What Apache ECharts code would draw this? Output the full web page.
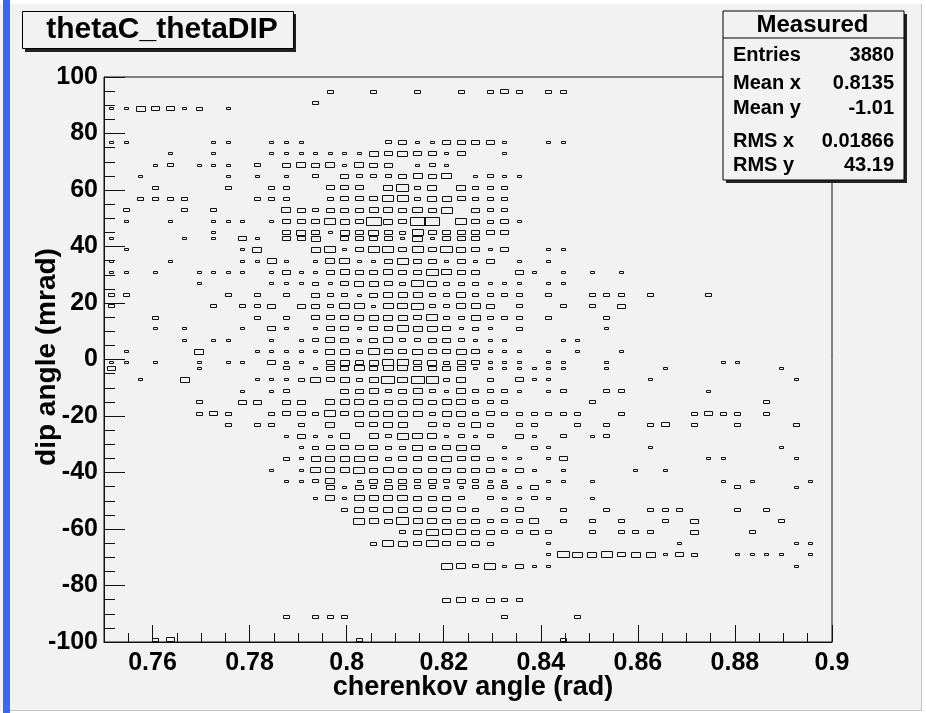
<!DOCTYPE html>
<html>
<head>
<meta charset="utf-8">
<script src="https://cdn.jsdelivr.net/npm/echarts@6/dist/echarts.min.js"></script>
<style>
html,body{margin:0;padding:0;background:#ffffff;}
#chart{width:926px;height:713px;}
</style>
</head>
<body>
<div id="chart"></div>
<script>
// ---- data ----
const title = 'thetaC_thetaDIP';
const xTitle = 'cherenkov angle (rad)';
const yTitle = 'dip angle (mrad)';
const xMin = 0.75, xMax = 0.9;
const yMin = -100, yMax = 100;
const xMajorTicks = [0.76, 0.78, 0.8, 0.82, 0.84, 0.86, 0.88, 0.9];
const xMinorTicks = [0.755, 0.765, 0.77, 0.775, 0.785, 0.79, 0.795, 0.805, 0.81, 0.815, 0.825, 0.83, 0.835, 0.845, 0.85, 0.855, 0.865, 0.87, 0.875, 0.885, 0.89, 0.895];
const xBinWidth = 0.003;
const xBinCenters = [0.7515, 0.7545, 0.7575, 0.7605, 0.7635, 0.7665, 0.7695, 0.7725, 0.7755, 0.7785,
  0.7815, 0.7845, 0.7875, 0.7905, 0.7935, 0.7965, 0.7995, 0.8025, 0.8055, 0.8085,
  0.8115, 0.8145, 0.8175, 0.8205, 0.8235, 0.8265, 0.8295, 0.8325, 0.8355, 0.8385,
  0.8415, 0.8445, 0.8475, 0.8505, 0.8535, 0.8565, 0.8595, 0.8625, 0.8655, 0.8685,
  0.8715, 0.8745, 0.8775, 0.8805, 0.8835, 0.8865, 0.8895, 0.8925, 0.8955, 0.8985];
// dip-angle rows (bin centres, mrad)
const dipRows = [95, 91, 89, 77, 73, 69, 65, 61, 57, 53, 49, 45, 43, 39, 35, 31, 27, 23, 19, 15, 11, 7, 3,
  -1, -3, -7, -11, -15, -19, -23, -27, -31, -35, -39, -43, -45, -49, -53, -57, -61, -65, -69, -73, -85, -91, -99];
// per row: [x bin index, entries]
const rowCells = [
  [[15,2],[18,2],[21,2],[24,2],[26,2],[27,3],[28,2],[30,2],[31,2]],
  [[14,2]],
  [[0,1],[1,1],[2,4],[3,3],[4,3],[5,1],[6,2],[8,1]],
  [[0,1],[1,1],[7,1],[8,1],[11,1],[12,1],[13,1],[19,2],[20,3],[21,1],[22,1],[23,3],[24,3],[25,3],[26,3],[27,1],[30,1],[31,1]],
  [[4,1],[7,1],[11,1],[12,1],[13,1],[14,1],[15,1],[16,1],[17,1],[18,4],[19,3],[20,5],[21,3],[22,3],[23,1],[24,3],[27,1]],
  [[3,1],[4,2],[6,1],[7,1],[8,1],[10,2],[12,3],[13,4],[14,3],[15,4],[16,1],[17,4],[18,3],[19,3],[21,1],[22,2],[23,1]],
  [[2,1],[8,1],[10,1],[12,1],[14,2],[16,3],[17,2],[18,2],[19,2],[20,3],[21,4],[22,3],[23,5],[25,1],[26,2],[27,1],[28,1]],
  [[3,2],[8,2],[11,2],[12,2],[15,3],[16,3],[17,3],[19,4],[20,8],[21,2],[22,4],[24,4],[25,2],[26,2],[27,2]],
  [[2,2],[3,2],[4,2],[5,2],[10,2],[11,2],[12,2],[15,2],[16,3],[17,3],[18,3],[19,6],[20,6],[21,2],[22,4],[23,4],[24,3],[25,2],[26,2],[27,2]],
  [[1,2],[5,2],[7,2],[12,4],[13,3],[14,2],[15,3],[16,3],[17,3],[18,4],[19,4],[20,3],[21,5],[22,3],[23,6],[25,3],[26,2],[27,2]],
  [[1,1],[4,1],[7,1],[8,1],[9,1],[11,1],[12,3],[13,3],[14,3],[15,6],[16,4],[17,3],[18,14],[19,4],[20,3],[21,15],[22,15],[24,6],[25,3],[26,2],[27,3],[28,1]],
  [[7,1],[12,3],[13,4],[14,3],[15,1],[16,4],[17,3],[18,5],[19,3],[20,2],[21,6],[22,3],[23,3],[24,3],[25,3],[26,3],[27,3]],
  [[0,1],[5,1],[7,1],[9,3],[10,1],[12,3],[13,3],[14,4],[16,3],[17,3],[18,3],[19,3],[20,1],[21,5],[22,1],[23,3],[24,3],[25,3]],
  [[1,1],[9,1],[10,4],[14,4],[15,6],[16,1],[17,3],[18,6],[19,6],[20,3],[21,6],[22,3],[23,7],[24,4],[25,3],[26,1],[27,3],[30,1],[31,1]],
  [[0,1],[4,1],[9,1],[10,1],[11,4],[12,1],[14,1],[15,4],[16,5],[17,1],[18,1],[19,3],[20,6],[21,3],[22,3],[23,1],[24,3],[25,1],[26,3],[28,1],[30,1]],
  [[0,1],[1,1],[3,1],[6,1],[7,1],[8,1],[9,1],[11,1],[12,3],[13,1],[14,1],[15,3],[16,4],[17,3],[18,3],[19,4],[20,3],[21,3],[22,7],[23,5],[24,3],[25,3],[28,3],[29,1],[31,1],[33,1],[35,1]],
  [[6,1],[11,1],[12,1],[13,1],[14,2],[15,1],[16,3],[17,4],[18,4],[19,3],[20,2],[21,7],[22,4],[23,2],[24,2],[25,2],[26,1],[27,1],[28,1],[30,1],[31,1]],
  [[0,2],[1,2],[8,2],[10,2],[12,2],[14,3],[15,2],[16,2],[17,1],[18,3],[19,4],[20,4],[21,4],[22,2],[23,2],[24,4],[25,2],[26,2],[27,2],[28,2],[30,2],[33,2],[34,2],[35,2],[37,2],[41,2]],
  [[0,2],[7,2],[9,2],[10,2],[11,3],[13,3],[14,3],[15,2],[16,5],[17,5],[18,1],[19,5],[20,5],[21,7],[22,2],[23,2],[24,4],[25,4],[26,3],[28,2],[31,2],[33,2],[35,3]],
  [[3,2],[10,2],[12,2],[14,3],[15,3],[16,3],[17,4],[18,4],[19,4],[20,4],[21,3],[22,6],[23,2],[24,2],[25,4],[26,2],[27,2],[28,2],[30,2],[34,2]],
  [[3,1],[5,1],[9,1],[11,3],[12,1],[14,1],[15,3],[16,3],[17,1],[18,3],[19,3],[20,6],[21,4],[22,5],[23,3],[24,1],[25,2],[26,1],[28,2],[34,1]],
  [[5,1],[7,1],[8,1],[11,1],[13,1],[14,2],[15,4],[16,3],[17,1],[18,3],[19,4],[20,2],[21,2],[22,3],[23,3],[24,2],[25,1],[26,1],[27,1],[31,1],[32,1]],
  [[1,1],[6,4],[10,1],[11,1],[12,1],[13,1],[14,1],[15,4],[16,4],[17,2],[18,6],[19,3],[20,3],[21,5],[22,3],[23,3],[24,5],[25,3],[26,1],[27,1],[28,1],[30,1],[32,1],[35,1]],
  [[0,1],[1,1],[3,1],[6,1],[8,1],[9,1],[11,3],[12,1],[13,1],[15,3],[16,4],[17,3],[18,4],[19,6],[20,6],[21,3],[22,4],[23,2],[24,3],[25,3],[26,1],[27,1],[28,1],[30,1],[31,1],[34,1],[42,1],[43,1]],
  [[0,3],[6,1],[12,2],[14,1],[15,3],[16,3],[17,5],[18,3],[19,5],[20,5],[21,3],[22,3],[23,3],[24,3],[25,1],[26,1],[27,1],[28,1],[29,1],[30,1],[31,1],[34,1],[38,1],[46,1]],
  [[2,1],[5,4],[10,1],[11,1],[12,1],[13,2],[14,5],[15,3],[16,4],[17,2],[18,4],[19,9],[20,5],[21,9],[22,8],[23,2],[24,4],[26,2],[28,3],[29,1],[30,1],[37,1],[47,1]],
  [[9,1],[11,1],[12,2],[16,3],[17,3],[18,4],[19,2],[20,3],[21,4],[22,2],[23,1],[24,4],[25,2],[26,2],[27,2],[28,1],[30,1],[31,2],[34,2],[35,2],[41,1]],
  [[6,2],[9,3],[10,3],[12,3],[13,3],[15,4],[16,4],[17,4],[18,3],[19,3],[20,3],[21,4],[22,3],[23,4],[24,4],[25,2],[26,2],[27,2],[33,2],[45,2]],
  [[6,2],[7,3],[8,2],[11,2],[12,3],[13,3],[14,2],[15,6],[16,3],[17,4],[18,4],[19,4],[20,4],[21,4],[22,2],[23,4],[24,4],[25,2],[26,3],[27,2],[28,2],[29,2],[30,2],[31,2],[32,2],[35,2],[40,2],[41,3],[42,2],[43,2],[45,2]],
  [[8,2],[10,2],[11,2],[13,2],[15,4],[17,3],[18,3],[19,4],[20,4],[22,3],[23,2],[24,2],[25,4],[26,2],[28,2],[29,2],[32,2],[34,2],[37,2],[38,3],[40,2],[43,2],[47,2]],
  [[12,1],[13,3],[14,1],[15,1],[16,4],[18,4],[19,2],[20,6],[21,5],[22,4],[23,1],[24,2],[25,1],[26,2],[28,3],[29,1],[31,2],[33,1],[34,2]],
  [[13,1],[14,2],[15,3],[16,3],[17,3],[18,3],[19,2],[20,2],[21,5],[22,2],[23,3],[24,5],[25,3],[27,1],[29,2],[30,1],[37,1],[46,1]],
  [[12,2],[13,1],[14,4],[15,4],[16,4],[17,5],[18,3],[19,2],[20,3],[21,3],[22,3],[23,5],[24,3],[25,3],[26,2],[27,1],[28,1],[30,1],[31,3],[41,1],[42,1],[47,1]],
  [[11,1],[13,1],[14,5],[15,4],[16,4],[17,6],[18,3],[19,5],[20,3],[21,3],[22,3],[23,3],[24,3],[25,3],[26,3],[27,1],[28,3],[29,1],[31,1],[36,1],[38,1]],
  [[12,1],[13,1],[14,2],[15,4],[17,1],[18,3],[19,2],[20,3],[21,2],[22,3],[23,2],[24,3],[25,2],[26,1],[27,1],[30,1],[31,1],[33,1],[42,1],[44,1],[48,1]],
  [[15,3],[16,1],[17,3],[18,2],[19,3],[20,3],[21,2],[22,2],[23,1],[24,1],[25,2],[26,2],[27,2],[28,1],[29,3],[43,2],[47,1]],
  [[14,1],[15,4],[16,1],[17,5],[18,4],[19,4],[20,5],[21,3],[22,3],[23,3],[24,2],[26,2],[27,1],[28,1],[29,2],[30,1],[33,1]],
  [[16,2],[17,4],[18,3],[19,4],[20,4],[21,3],[22,3],[23,3],[24,3],[25,2],[27,2],[28,3],[31,2],[34,2],[37,2],[38,2],[39,2],[43,2],[45,2]],
  [[17,6],[18,4],[19,3],[20,8],[21,4],[22,4],[23,3],[24,3],[25,3],[26,2],[27,2],[28,2],[29,4],[31,2],[33,2],[35,2],[38,2],[40,3],[46,2]],
  [[20,2],[21,3],[22,7],[23,4],[24,4],[25,3],[26,3],[27,2],[28,2],[29,3],[30,2],[33,2],[35,2],[36,2],[37,2],[40,3],[44,2]],
  [[18,2],[19,6],[20,4],[21,3],[22,7],[23,3],[24,3],[25,3],[26,2],[30,1],[39,1],[47,1],[48,1]],
  [[30,1],[31,7],[32,5],[33,4],[34,6],[35,3],[36,4],[37,4],[38,1],[39,3],[40,2],[43,1],[44,1],[45,1],[46,1],[48,1]],
  [[23,6],[24,4],[25,2],[26,6],[27,1],[28,3],[29,1],[30,1],[47,1]],
  [[23,3],[24,4],[25,2],[26,3],[27,2],[28,2]],
  [[12,2],[14,2],[15,2],[16,2],[27,2],[32,2]],
  [[3,2],[4,3],[17,2],[31,2]]
];
const statsHeader = 'Measured';
const statsLabels = ['Entries', 'Mean x', 'Mean y', 'RMS x', 'RMS y'];
const statsValues = ['3880', '0.8135', '-1.01', '0.01866', '43.19'];

// ---- build ----
const boxData = [];
dipRows.forEach(function (y, r) {
  rowCells[r].forEach(function (c) { boxData.push([xBinCenters[c[0]], y, c[1]]); });
});
const VMAX = 11;          // content that fills a full box
const BOX_H = 2.75;       // full box height in mrad

const FONT = "'Liberation Sans', Arial, Helvetica, sans-serif";
const BG = '#f2f2f2';

const chart = echarts.init(document.getElementById('chart'), null, {renderer: 'canvas'});

const gridL = 104, gridT = 77, gridW = 728, gridH = 565;

const statsX = 723, statsY = 11, statsW = 181, statsH = 169;
const rowYs = [55, 83, 108, 141, 165];
const statsGraphics = [
  {type: 'rect', z: 100, shape: {x: statsX + 3, y: statsY + 3, width: statsW, height: statsH}, style: {fill: '#222'}},
  {type: 'rect', z: 101, shape: {x: statsX, y: statsY, width: statsW, height: statsH}, style: {fill: BG, stroke: '#000', lineWidth: 1}},
  {type: 'line', z: 102, shape: {x1: statsX, y1: 38, x2: statsX + statsW, y2: 38}, style: {stroke: '#000', lineWidth: 1}},
  {type: 'text', z: 102, x: statsX + statsW / 2 - 1, y: 25, style: {text: statsHeader, font: 'bold 24px ' + FONT, fill: '#000', textAlign: 'center', textVerticalAlign: 'middle'}}
];
statsLabels.forEach(function (lab, i) {
  statsGraphics.push({type: 'text', z: 102, x: 733, y: rowYs[i], style: {text: lab, font: 'bold 20px ' + FONT, fill: '#000', textAlign: 'left', textVerticalAlign: 'middle'}});
  statsGraphics.push({type: 'text', z: 102, x: 894, y: rowYs[i], style: {text: statsValues[i], font: 'bold 20px ' + FONT, fill: '#000', textAlign: 'right', textVerticalAlign: 'middle'}});
});

const option = {
  backgroundColor: BG,
  animation: false,
  grid: {left: gridL, top: gridT, width: gridW, height: gridH, show: true, borderColor: '#111', borderWidth: 1, backgroundColor: 'transparent'},
  xAxis: [
    {
      type: 'value', min: xMin, max: xMax, position: 'bottom', gridIndex: 0,
      axisLine: {show: true, onZero: false, lineStyle: {color: '#111', width: 1}},
      axisTick: {show: true, inside: true, length: 9, customValues: xMinorTicks, lineStyle: {color: '#111'}},
      axisLabel: {show: true, customValues: xMajorTicks, margin: 9, color: '#000', fontFamily: FONT, fontWeight: 'bold', fontSize: 25},
      splitLine: {show: false}
    },
    {
      type: 'value', min: xMin, max: xMax, position: 'bottom', gridIndex: 0,
      axisLine: {show: false, onZero: false},
      axisTick: {show: true, inside: true, length: 17, customValues: xMajorTicks, lineStyle: {color: '#111'}},
      axisLabel: {show: false},
      splitLine: {show: false}
    }
  ],
  yAxis: {
    type: 'value', min: yMin, max: yMax, interval: 20,
    axisLine: {show: true, onZero: false, lineStyle: {color: '#111', width: 1}},
    axisTick: {show: true, inside: true, length: 21, lineStyle: {color: '#111'}},
    minorTick: {show: true, splitNumber: 4, length: 11, lineStyle: {color: '#111'}},
    axisLabel: {margin: 6, color: '#000', fontFamily: FONT, fontWeight: 'bold', fontSize: 25},
    splitLine: {show: false}
  },
  series: [{
    type: 'custom',
    xAxisIndex: 0, yAxisIndex: 0,
    data: boxData,
    encode: {x: 0, y: 1},
    renderItem: function (params, api) {
      const x = api.value(0), y = api.value(1), v = api.value(2);
      const c = api.coord([x, y]);
      const full = api.size([xBinWidth, BOX_H]);
      const r = Math.min(1, Math.sqrt(v / VMAX));
      const w = Math.max(2, Math.round(full[0] * r));
      const h = Math.max(1, Math.round(full[1] * r));
      const x0 = Math.round(c[0] - w / 2) + 0.5;
      const y0 = Math.round(c[1] - h / 2) + 0.5;
      return {
        type: 'rect',
        shape: {x: x0, y: y0, width: w, height: h},
        style: {fill: null, stroke: '#111', lineWidth: 1}
      };
    }
  }],
  graphic: [
    // outer border / blue strip
    {type: 'rect', z: 90, shape: {x: 0, y: 0, width: 926, height: 4}, style: {fill: '#ffffff'}},
    {type: 'rect', z: 90, shape: {x: 922, y: 0, width: 4, height: 713}, style: {fill: '#ffffff'}},
    {type: 'rect', z: 90, shape: {x: 0, y: 711, width: 926, height: 2}, style: {fill: '#ffffff'}},
    {type: 'line', z: 91, shape: {x1: 921.5, y1: 4, x2: 921.5, y2: 711}, style: {stroke: '#c4c4c4', lineWidth: 1}},
    {type: 'line', z: 91, shape: {x1: 10, y1: 710.5, x2: 922, y2: 710.5}, style: {stroke: '#c4c4c4', lineWidth: 1}},
    {type: 'rect', z: 92, shape: {x: 3, y: 0, width: 7, height: 713}, style: {fill: '#3a66f5'}},
    // axis titles
    {type: 'text', z: 95, x: 473, y: 688, style: {text: xTitle, font: 'bold 27px ' + FONT, fill: '#000', textAlign: 'center', textVerticalAlign: 'middle'}},
    {type: 'text', z: 95, x: 47, y: 357, rotation: Math.PI / 2, style: {text: yTitle, font: 'bold 28px ' + FONT, fill: '#000', textAlign: 'center', textVerticalAlign: 'middle'}},
    // title box
    {type: 'rect', z: 100, shape: {x: 25, y: 14, width: 271, height: 38}, style: {fill: '#222'}},
    {type: 'rect', z: 101, shape: {x: 22.5, y: 11.5, width: 271, height: 37}, style: {fill: BG, stroke: '#000', lineWidth: 1}},
    {type: 'text', z: 102, x: 162, y: 30, style: {text: title, font: 'bold 30px ' + FONT, fill: '#000', textAlign: 'center', textVerticalAlign: 'middle'}}
  ].concat(statsGraphics)
};
chart.setOption(option);
</script>
</body>
</html>
